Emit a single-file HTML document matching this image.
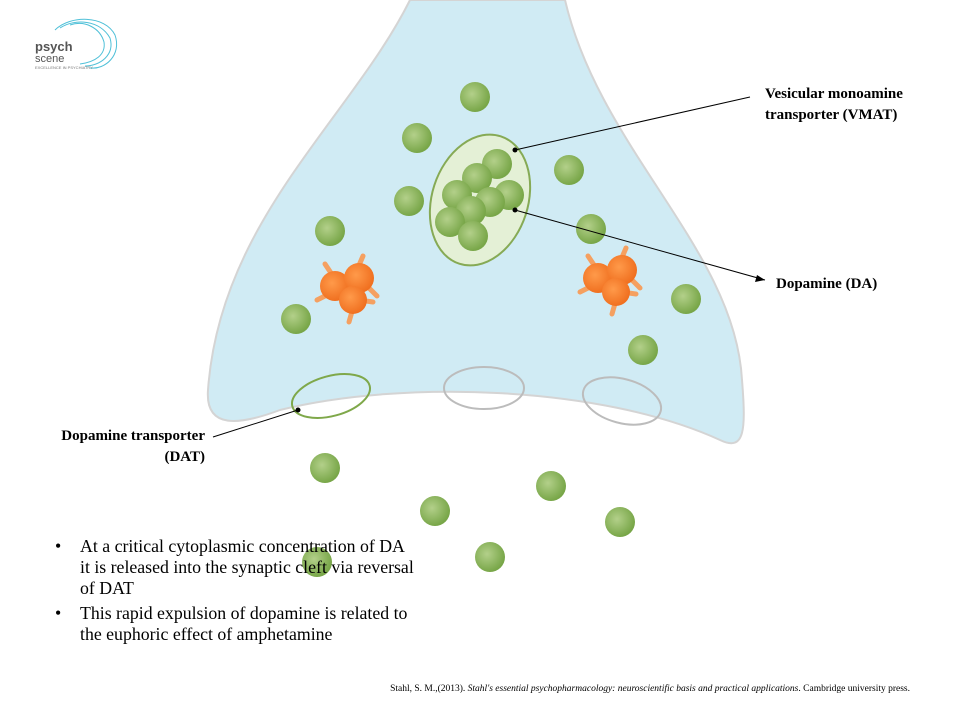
<!DOCTYPE html>
<html><head><style>
body{margin:0;width:973px;height:716px;background:#fff;overflow:hidden;font-family:"Liberation Serif",serif}
</style></head><body>
<svg width="973" height="716" viewBox="0 0 973 716" xmlns="http://www.w3.org/2000/svg">
<defs>
<radialGradient id="g" cx="0.4" cy="0.4" r="0.6"><stop offset="0" stop-color="#b3d08a"/><stop offset="1" stop-color="#78a648"/></radialGradient>
<radialGradient id="o" cx="0.4" cy="0.4" r="0.6"><stop offset="0" stop-color="#ff9a4a"/><stop offset="1" stop-color="#f07020"/></radialGradient>
<g id="mol">
<g stroke="#f5a060" stroke-width="5" stroke-linecap="round">
<line x1="-12" y1="-12" x2="-20" y2="-24"/><line x1="-16" y1="6" x2="-28" y2="12"/>
<line x1="12" y1="-18" x2="18" y2="-32"/><line x1="22" y1="-2" x2="32" y2="8"/>
<line x1="14" y1="12" x2="28" y2="14"/><line x1="8" y1="20" x2="4" y2="34"/>
</g>
<circle cx="-10" cy="-2" r="15" fill="url(#o)"/><circle cx="14" cy="-10" r="15" fill="url(#o)"/><circle cx="8" cy="12" r="14" fill="url(#o)"/>
</g>
</defs>
<path d="M410,0 C350,120 220,220 208,390 C205,430 240,425 280,410 C400,380 600,385 720,440 C745,452 746,430 742,380 C735,250 600,150 565,0 Z" fill="#d0ebf4" stroke="#d4d4d4" stroke-width="2"/>
<g fill="url(#g)">
<circle cx="475" cy="97" r="15"/><circle cx="417" cy="138" r="15"/><circle cx="409" cy="201" r="15"/><circle cx="330" cy="231" r="15"/><circle cx="296" cy="319" r="15"/><circle cx="569" cy="170" r="15"/><circle cx="591" cy="229" r="15"/><circle cx="686" cy="299" r="15"/><circle cx="643" cy="350" r="15"/><circle cx="325" cy="468" r="15"/><circle cx="435" cy="511" r="15"/><circle cx="551" cy="486" r="15"/><circle cx="620" cy="522" r="15"/><circle cx="490" cy="557" r="15"/><circle cx="317" cy="562" r="15"/>
</g>
<ellipse cx="480" cy="200" rx="48" ry="67" transform="rotate(18 480 200)" fill="#e4f0d6" stroke="#86aa55" stroke-width="2"/>
<g fill="url(#g)">
<circle cx="497" cy="164" r="15"/><circle cx="477" cy="178" r="15"/><circle cx="457" cy="195" r="15"/><circle cx="509" cy="195" r="15"/><circle cx="490" cy="202" r="15"/><circle cx="471" cy="211" r="15"/><circle cx="450" cy="222" r="15"/><circle cx="473" cy="236" r="15"/>
</g>
<use href="#mol" x="345" y="288"/><use href="#mol" x="608" y="280"/>
<ellipse cx="331" cy="396" rx="40" ry="20" transform="rotate(-15 331 396)" fill="none" stroke="#7fa84a" stroke-width="2"/>
<ellipse cx="484" cy="388" rx="40" ry="21" fill="none" stroke="#bcbcbc" stroke-width="2"/>
<ellipse cx="622" cy="401" rx="40" ry="22" transform="rotate(15 622 401)" fill="none" stroke="#bcbcbc" stroke-width="2"/>
<g stroke="#000" stroke-width="1"><line x1="515" y1="150" x2="750" y2="97"/><line x1="515" y1="210" x2="765" y2="280"/><line x1="298" y1="410" x2="213" y2="437"/></g>
<g fill="#000"><circle cx="515" cy="150" r="2.5"/><circle cx="515" cy="210" r="2.5"/><circle cx="298" cy="410" r="2.5"/><polygon points="765,280 757,275 755,282"/></g>
<g font-family="Liberation Serif,serif" font-weight="bold" font-size="15">
<text x="765" y="98">Vesicular monoamine</text><text x="765" y="119">transporter (VMAT)</text>
<text x="776" y="288">Dopamine (DA)</text>
<text x="205" y="440" text-anchor="end">Dopamine transporter</text><text x="205" y="461" text-anchor="end">(DAT)</text>
</g>
<g font-family="Liberation Serif,serif" font-size="17.8">
<text x="55" y="552">•</text><text x="80" y="552">At a critical cytoplasmic concentration of DA</text>
<text x="80" y="573">it is released into the synaptic cleft via reversal</text>
<text x="80" y="594">of DAT</text>
<text x="55" y="619">•</text><text x="80" y="619">This rapid expulsion of dopamine is related to</text>
<text x="80" y="640">the euphoric effect of amphetamine</text>
</g>
<text x="910" y="691" text-anchor="end" font-family="Liberation Serif,serif" font-size="9.5">Stahl, S. M.,(2013). <tspan font-style="italic">Stahl's essential psychopharmacology: neuroscientific basis and practical applications</tspan>. Cambridge university press.</text>
<g fill="none" stroke="#4fc0d8" stroke-width="1">
<path d="M55,30 C70,15 105,15 115,35 C122,55 105,70 90,68"/><path d="M60,28 C75,18 100,20 110,38 C115,55 100,66 85,66"/><path d="M70,25 C85,20 100,28 104,42 C106,55 95,62 80,64"/>
</g>
<text x="35" y="51" font-family="Liberation Sans,sans-serif" font-weight="bold" font-size="13" fill="#555">psych</text>
<text x="35" y="62" font-family="Liberation Sans,sans-serif" font-size="11" fill="#555">scene</text>
<text x="35" y="69" font-family="Liberation Sans,sans-serif" font-size="4" fill="#777">EXCELLENCE IN PSYCHIATRY</text>
</svg>
</body></html>
